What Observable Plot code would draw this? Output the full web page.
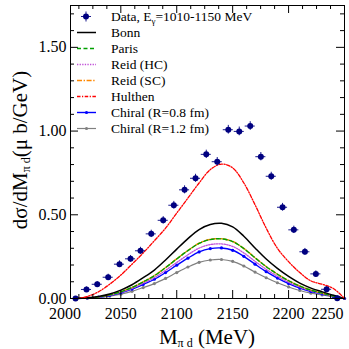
<!DOCTYPE html>
<html><head><meta charset="utf-8">
<script src="https://cdn.jsdelivr.net/npm/d3@7"></script>
<script src="https://cdn.jsdelivr.net/npm/@observablehq/plot@0.6"></script>
<style>html,body{margin:0;padding:0;background:#fff;} svg{display:block;}</style>
</head><body><div id="chart"></div>
<script>
// ---- measured data points (E_gamma = 1010-1150 MeV)
const dataX    = [2009.5,2019.3,2028.9,2038.7,2048.8,2058.7,2067.6,2077.2,2087.9,2097.4,2107.0,2116.8,2126.4,2136.2,2146.1,2155.9,2165.7,2175.2,2184.5,2194.6,2204.7,2214.6,2224.4,2234.0,2243.5];
const dataY    = [0.000,0.054,0.085,0.127,0.205,0.237,0.285,0.386,0.467,0.557,0.649,0.718,0.861,0.817,1.008,0.998,1.030,0.847,0.730,0.545,0.410,0.279,0.147,0.055,0.002];
const dataXErr = [4.5,4.5,4.5,4.5,4.5,4.5,4.5,4.5,4.5,4.5,4.5,4.5,4.5,4.5,4.5,4.5,4.5,4.5,4.5,4.5,4.5,4.5,4.5,4.5,4.5];
const dataYErr = [0.012,0.015,0.016,0.018,0.020,0.020,0.021,0.022,0.022,0.023,0.024,0.024,0.025,0.025,0.026,0.026,0.026,0.025,0.024,0.023,0.022,0.020,0.018,0.015,0.012];

// ---- model curves
const curveX   = [2010,2020,2030,2040,2050,2060,2070,2080,2090,2100,2110,2120,2130,2140,2150,2160,2170,2180,2190,2200,2210,2220,2230,2240,2250];
const bonn     = [0,.004,.012,.027,.050,.082,.124,.170,.230,.295,.358,.412,.442,.449,.428,.372,.302,.236,.180,.132,.092,.062,.040,.019,0];
const paris    = [0,.003,.010,.022,.040,.066,.099,.136,.184,.236,.286,.329,.352,.356,.340,.298,.243,.190,.145,.106,.074,.050,.032,.015,0];
const reidHC   = [0,.003,.009,.020,.037,.060,.091,.125,.168,.215,.261,.301,.322,.326,.311,.272,.222,.174,.133,.097,.068,.046,.029,.014,0];
const reidSC   = [0,.003,.010,.022,.041,.066,.100,.137,.185,.237,.287,.330,.353,.357,.341,.299,.244,.191,.146,.107,.075,.050,.032,.015,0];
const hulthen  = [0,.012,.040,.085,.140,.205,.272,.345,.420,.510,.600,.690,.770,.803,.780,.690,.560,.420,.300,.220,.155,.105,.085,.060,0];
const chiral08 = [0,.003,.008,.018,.034,.056,.084,.115,.155,.199,.241,.278,.298,.302,.288,.252,.205,.160,.122,.089,.062,.042,.027,.013,0];
const chiral12 = [0,.002,.006,.014,.026,.043,.065,.089,.120,.155,.188,.216,.230,.233,.222,.194,.158,.124,.094,.069,.048,.032,.021,.010,0];

// ---- ticks / labels
const xTickLabels = [2000,2050,2100,2150,2200,2250];
const yTickLabels = [0,0.5,1.0,1.5];
const legendLabels = ["Bonn","Paris","Reid (HC)","Reid (SC)","Hulthen","Chiral (R=0.8 fm)","Chiral (R=1.2 fm)"];

// ---- layout
const W = 349, H = 349, mL = 70, mR = 5, mT = 5, mB = 51;
const innerW = W - mL - mR, innerH = H - mT - mB;
const xDomain = [2005, 2250], yDomain = [0, 1.75];
const font = "'Liberation Serif', 'Times New Roman', serif";

const series = [
  {name: "Chiral (R=1.2 fm)", values: chiral12, stroke: "#808080", width: 1.2, dash: null, dots: true},
  {name: "Chiral (R=0.8 fm)", values: chiral08, stroke: "#0000ff", width: 1.4, dash: null, dots: true},
  {name: "Reid (HC)", values: reidHC, stroke: "#c050d8", width: 1.3, dash: "1.3,1.3", dots: false},
  {name: "Reid (SC)", values: reidSC, stroke: "#ff8800", width: 1.4, dash: "5,1.6,1.4,1.6", dots: false},
  {name: "Paris", values: paris, stroke: "#00a000", width: 1.4, dash: "4,2.5", dots: false},
  {name: "Bonn", values: bonn, stroke: "#000000", width: 1.5, dash: null, dots: false},
  {name: "Hulthen", values: hulthen, stroke: "#ff0000", width: 1.3, dash: "3.5,1.5,1.2,1.5", dots: false}
];

const points = dataX.map((x, i) => ({x, y: dataY[i], ex: dataXErr[i], ey: dataYErr[i]}));

const xMajor = xTickLabels.filter(v => v >= xDomain[0] && v <= xDomain[1]);
const xMinor = d3.range(2000, 2250.01, 12.5).filter(v => v >= xDomain[0] && v <= xDomain[1] && v % 50 !== 0);
const yMajor = yTickLabels;
const yMinor = d3.range(0, 17.5).map(v => v / 10).filter(v => Math.abs(v * 2 - Math.round(v * 2)) > 1e-6);

const marks = [];
for (const s of series) {
  const rows = curveX.map((x, i) => ({x, y: s.values[i]}));
  marks.push(Plot.line(rows, {x: "x", y: "y", stroke: s.stroke, strokeWidth: s.width, strokeDasharray: s.dash, curve: "catmull-rom"}));
  if (s.dots) marks.push(Plot.dot(rows, {x: "x", y: "y", r: 1.6, fill: s.stroke}));
}
marks.push(
  Plot.ruleY(points, {y: "y", x1: d => d.x - d.ex, x2: d => d.x + d.ex, stroke: "#1a1a8c", strokeWidth: 1}),
  Plot.ruleX(points, {x: "x", y1: d => Math.max(0, d.y - d.ey), y2: d => d.y + d.ey, stroke: "#1a1a8c", strokeWidth: 1}),
  Plot.dot(points, {x: "x", y: "y", r: 3, fill: "#000080"}),
  // ticks inside frame, all four sides
  Plot.tickX(xMajor, {x: d => d, insetTop: innerH - 8, stroke: "black"}),
  Plot.tickX(xMajor, {x: d => d, insetBottom: innerH - 8, stroke: "black"}),
  Plot.tickX(xMinor, {x: d => d, insetTop: innerH - 4, stroke: "black"}),
  Plot.tickX(xMinor, {x: d => d, insetBottom: innerH - 4, stroke: "black"}),
  Plot.tickY(yMajor, {y: d => d, insetRight: innerW - 8, stroke: "black"}),
  Plot.tickY(yMajor, {y: d => d, insetLeft: innerW - 8, stroke: "black"}),
  Plot.tickY(yMinor, {y: d => d, insetRight: innerW - 4, stroke: "black"}),
  Plot.tickY(yMinor, {y: d => d, insetLeft: innerW - 4, stroke: "black"}),
  Plot.frame({stroke: "black", strokeWidth: 1}),
  Plot.text(xTickLabels.slice(0, -1), {x: d => d, frameAnchor: "bottom", lineAnchor: "top", dy: 9, text: d => String(d), fontSize: 16, fill: "black", clip: false}),
  Plot.text(xTickLabels.slice(-1), {x: d => d, frameAnchor: "bottom", lineAnchor: "top", textAnchor: "end", dx: -1, dy: 9, text: d => String(d), fontSize: 16, fill: "black", clip: false}),
  Plot.text(yTickLabels, {y: d => d, frameAnchor: "left", textAnchor: "end", dx: -4, text: d => d.toFixed(2), fontSize: 16, fill: "black"})
);

const plot = Plot.plot({
  width: W, height: H,
  marginLeft: mL, marginRight: mR, marginTop: mT, marginBottom: mB,
  x: {domain: xDomain, axis: null},
  y: {domain: yDomain, axis: null},
  style: {fontFamily: font, background: "#fff", overflow: "visible"},
  marks
});

const svg = d3.select(plot);

// axis titles with subscripts
const xt = svg.append("text").attr("x", mL + innerW / 2).attr("y", 344).attr("text-anchor", "middle")
  .attr("font-family", font).attr("font-size", 21).attr("fill", "black");
xt.append("tspan").text("M");
xt.append("tspan").attr("font-size", 12).attr("dy", 3).text("π d");
xt.append("tspan").attr("dy", -3).text(" (MeV)");

const yt = svg.append("text").attr("transform", "translate(27,150) rotate(-90)").attr("text-anchor", "middle")
  .attr("font-family", font).attr("font-size", 21).attr("fill", "black");
yt.append("tspan").text("dσ/dM");
yt.append("tspan").attr("font-size", 12).attr("dy", 3).text("π d");
yt.append("tspan").attr("dy", -3).text("(μ b/GeV)");

// legend
const lg = svg.append("g").attr("font-family", font).attr("font-size", 13.5).attr("fill", "black").attr("text-anchor", "start");
const ly0 = 16.5, lstep = 16, lx0 = 77, lx1 = 96, ltx = 111;
// data entry
lg.append("line").attr("x1", 81).attr("x2", 91).attr("y1", ly0).attr("y2", ly0).attr("stroke", "#1a1a8c");
lg.append("line").attr("x1", 86).attr("x2", 86).attr("y1", ly0 - 5).attr("y2", ly0 + 5).attr("stroke", "#1a1a8c");
lg.append("circle").attr("cx", 86).attr("cy", ly0).attr("r", 3).attr("fill", "#000080");
const dt = lg.append("text").attr("x", ltx).attr("y", ly0).attr("dy", "0.35em").attr("text-anchor", "start");
dt.append("tspan").text("Data, E");
dt.append("tspan").attr("font-size", 9).attr("dy", 3).text("γ");
dt.append("tspan").attr("dy", -3).text("=1010-1150 MeV");
legendLabels.forEach((name, i) => {
  const s = series.find(d => d.name === name);
  const y = ly0 + lstep * (i + 1);
  const ln = lg.append("line").attr("x1", lx0).attr("x2", lx1).attr("y1", y).attr("y2", y)
    .attr("stroke", s.stroke).attr("stroke-width", s.width);
  if (s.dash) ln.attr("stroke-dasharray", s.dash);
  if (s.dots) lg.append("circle").attr("cx", (lx0 + lx1) / 2).attr("cy", y).attr("r", 1.6).attr("fill", s.stroke);
  lg.append("text").attr("x", ltx).attr("y", y).attr("dy", "0.35em").attr("text-anchor", "start").text(name);
});

document.getElementById("chart").appendChild(plot);
</script>
</body></html>
